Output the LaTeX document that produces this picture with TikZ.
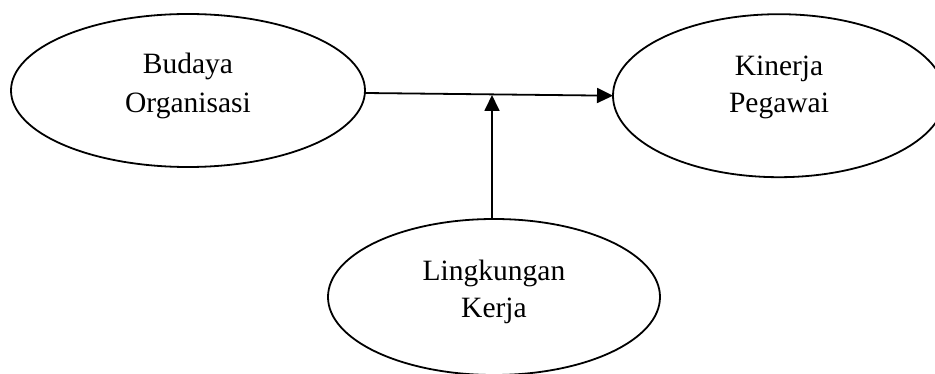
\documentclass[tikz,border=0pt]{standalone}
\usepackage{fontspec}
\setmainfont{Liberation Serif}
\usetikzlibrary{shapes.geometric,arrows.meta}
\tikzset{
  ell/.style={draw, ellipse, line width=1.8pt, inner sep=0pt, outer sep=0pt},
  txt/.style={anchor=base, inner sep=0pt, font=\fontsize{29.5}{36}\selectfont},
  arr/.style={line width=1.8pt, -{Triangle[length=16pt,width=15pt]}}
}
\begin{document}
\begin{tikzpicture}[x=1pt,y=-1pt]
\useasboundingbox (0,0) rectangle (935,374);
\node[ell, minimum width=354, minimum height=153] (bo) at (188,90.5) {};
\node[ell, minimum width=332, minimum height=163] (ki) at (779,95.7) {};
\node[ell, minimum width=332, minimum height=156] (lk) at (494,297) {};
\node[txt] (bo1) at (188,74) {Budaya};
\node[txt] (bo2) at (188,113) {Organisasi};
\node[txt] (ki1) at (779,76) {Kinerja};
\node[txt] (ki2) at (779,113) {Pegawai};
\node[txt] (lk1) at (494,280) {Lingkungan};
\node[txt] (lk2) at (494,317) {Kerja};
\coordinate (m) at (492,95);
\draw[arr] ([yshift=-2.5pt]bo.east) -- (ki.west);
\draw[arr] (m |- lk.north) -- (m);
\end{tikzpicture}
\end{document}
